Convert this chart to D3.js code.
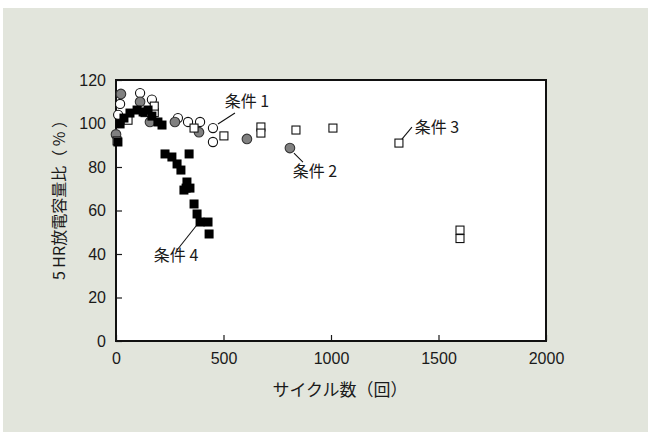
<!DOCTYPE html>
<html>
<head>
<meta charset="utf-8">
<script src="https://cdn.jsdelivr.net/npm/d3@7"></script>
<style>
  html, body { margin: 0; padding: 0; background: #ffffff; }
  svg { display: block; }
  text { fill: #1a1a1a; }
</style>
</head>
<body>
<svg id="chart" width="648" height="436"></svg>
<script>
// Cycle counts (x) and 5 HR discharge capacity ratio in % (y) for each condition
const cond1X = [10, 19, 112, 167, 288, 335, 391, 451, 451];
const cond1Y = [104, 109, 114, 111, 102.5, 100.7, 100.7, 97.9, 91.5];

const cond2X = [0, 23, 112, 158, 274, 386, 609, 809];
const cond2Y = [95, 113.6, 110, 100.7, 100.7, 96, 92.9, 88.7];

const cond3X = [5, 56, 135, 178, 178, 363, 502, 674, 674, 837, 1009, 1316, 1600, 1600];
const cond3Y = [92, 101.5, 105, 105, 108, 97.9, 94.3, 98.4, 95.6, 97.0, 97.9, 91.0, 51.0, 47.1];

const cond4X = [9, 19, 37, 65, 98, 126, 149, 167, 195, 214, 228, 260, 340, 284, 302, 330, 344, 316, 326, 363, 377, 391, 428, 433];
const cond4Y = [91.5, 99.8, 102.5, 104.8, 106.2, 105.3, 106.2, 103.4, 100.7, 99.3, 86, 84.6, 86, 81.4, 78.6, 73.1, 70.3, 69.4, 70.3, 63, 58.4, 54.7, 54.7, 49.2];

const xTicks = [0, 500, 1000, 1500, 2000];
const yTicks = [0, 20, 40, 60, 80, 100, 120];

const xTitle = "サイクル数（回）";
const yTitle = "5 HR放電容量比（ % ）";

// Callout labels: anchor point (data units) and label text
const calloutNames = ["条件 1", "条件 2", "条件 3", "条件 4"];
const calloutAnchorX = [451, 809, 1316, 391];
const calloutAnchorY = [97.9, 88.7, 91.0, 54.7];

const svg = d3.select("#chart");
const W = 648, H = 436;
const margin = { left: 116, right: 102, top: 80, bottom: 95 };
const plotW = W - margin.left - margin.right;
const plotH = H - margin.top - margin.bottom;

// Panel background
svg.append("rect")
  .attr("x", 3).attr("y", 8)
  .attr("width", W - 3).attr("height", H - 12)
  .attr("fill", "#e2e5dc");

const x = d3.scaleLinear().domain([0, 2000]).range([margin.left, margin.left + plotW]);
const y = d3.scaleLinear().domain([0, 120]).range([margin.top + plotH, margin.top]);

// Plot area
svg.append("rect")
  .attr("x", margin.left).attr("y", margin.top)
  .attr("width", plotW).attr("height", plotH)
  .attr("fill", "#ffffff");

const numFont = "'Liberation Sans', Arial, sans-serif";
const jpFont = "'Noto Sans CJK JP', 'Noto Sans', sans-serif";

// Axes with inward ticks
const xAxis = d3.axisBottom(x).tickValues(xTicks).tickSize(-6).tickPadding(12).tickFormat(d3.format("d"));
const yAxis = d3.axisLeft(y).tickValues(yTicks).tickSize(-6).tickPadding(10).tickFormat(d3.format("d"));

const gx = svg.append("g")
  .attr("transform", `translate(0,${margin.top + plotH})`)
  .call(xAxis);
const gy = svg.append("g")
  .attr("transform", `translate(${margin.left},0)`)
  .call(yAxis);

[gx, gy].forEach(g => {
  g.select(".domain").remove();
  g.selectAll(".tick line").attr("stroke", "#1a1a1a").attr("stroke-width", 1.2);
  g.selectAll(".tick text")
    .style("font-family", numFont)
    .style("font-size", "16px")
    .attr("fill", "#1a1a1a");
});
gx.selectAll(".tick text").attr("dy", "0.71em");

// Frame
svg.append("rect")
  .attr("x", margin.left).attr("y", margin.top)
  .attr("width", plotW).attr("height", plotH)
  .attr("fill", "none")
  .attr("stroke", "#111")
  .attr("stroke-width", 2);

// Axis titles
svg.append("text")
  .attr("x", 340).attr("y", 391)
  .attr("text-anchor", "middle")
  .attr("dominant-baseline", "middle")
  .style("font-family", jpFont)
  .style("font-size", "17px")
  .text(xTitle);

svg.append("text")
  .attr("transform", `translate(61,196) rotate(-90)`)
  .attr("text-anchor", "middle")
  .attr("dominant-baseline", "middle")
  .style("font-family", jpFont)
  .style("font-size", "16px")
  .text(yTitle);

const zip = (xs, ys) => xs.map((v, i) => ({ x: v, y: ys[i] }));
const plot = svg.append("g");

// 条件1: open circles
plot.append("g").selectAll("circle")
  .data(zip(cond1X, cond1Y)).join("circle")
  .attr("cx", d => x(d.x)).attr("cy", d => y(d.y)).attr("r", 4.6)
  .attr("fill", "#fff").attr("stroke", "#111").attr("stroke-width", 1.1);

// 条件2: grey circles
plot.append("g").selectAll("circle")
  .data(zip(cond2X, cond2Y)).join("circle")
  .attr("cx", d => x(d.x)).attr("cy", d => y(d.y)).attr("r", 4.8)
  .attr("fill", "#808080").attr("stroke", "#333").attr("stroke-width", 1.1);

// 条件3: open squares
const sq = 8;
plot.append("g").selectAll("rect")
  .data(zip(cond3X, cond3Y)).join("rect")
  .attr("x", d => x(d.x) - sq / 2).attr("y", d => y(d.y) - sq / 2)
  .attr("width", sq).attr("height", sq)
  .attr("fill", "#fff").attr("stroke", "#111").attr("stroke-width", 1.1);

// 条件4: filled squares
const sq4 = 9;
plot.append("g").selectAll("rect")
  .data(zip(cond4X, cond4Y)).join("rect")
  .attr("x", d => x(d.x) - sq4 / 2).attr("y", d => y(d.y) - sq4 / 2)
  .attr("width", sq4).attr("height", sq4)
  .attr("fill", "#000");

// Callouts: leader offsets and text offsets in pixels from the anchor
const leadFrom = [[5, -4], [4, 5], [3, -4], [-4, 4]];
const leadTo = [[22, -15], [13, 14], [13, -16], [-23, 28]];
const textAt = [[34, -25], [25, 25], [38, -14], [-24, 35]];
const ann = svg.append("g");
calloutNames.forEach((name, i) => {
  const ax = x(calloutAnchorX[i]), ay = y(calloutAnchorY[i]);
  ann.append("line")
    .attr("x1", ax + leadFrom[i][0]).attr("y1", ay + leadFrom[i][1])
    .attr("x2", ax + leadTo[i][0]).attr("y2", ay + leadTo[i][1])
    .attr("stroke", "#111").attr("stroke-width", 1.1);
  ann.append("text")
    .attr("x", ax + textAt[i][0]).attr("y", ay + textAt[i][1])
    .attr("text-anchor", "middle")
    .attr("dominant-baseline", "middle")
    .style("font-family", jpFont)
    .style("font-size", "16px")
    .text(name);
});
</script>
</body>
</html>
